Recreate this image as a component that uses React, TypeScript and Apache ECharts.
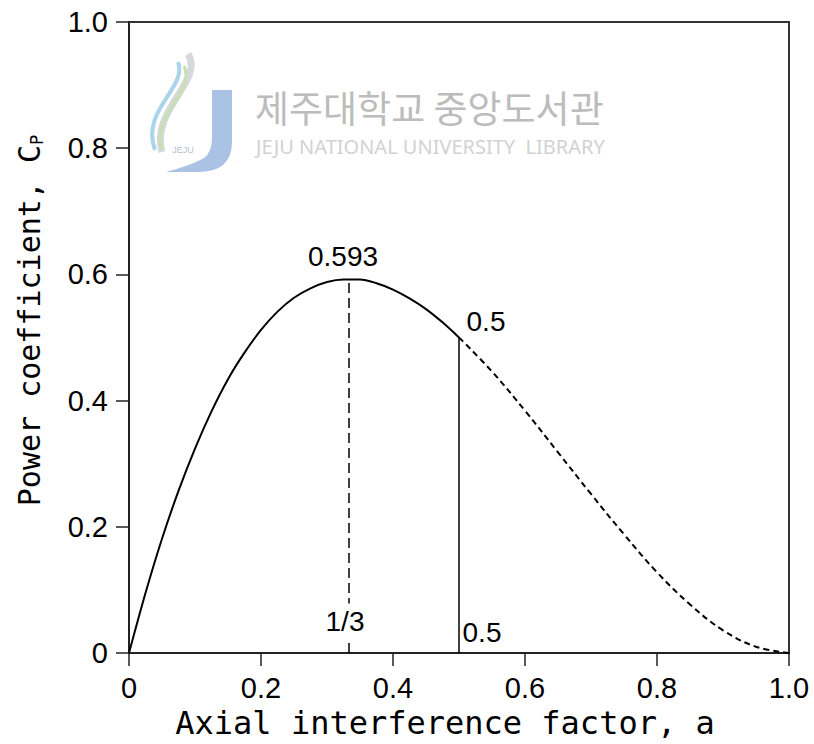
import React, { useEffect, useRef } from "react";
import * as echarts from "echarts";

// Solid part of the curve (a from 0 to 0.5)
const aSolid = [
  0, 0.025, 0.05, 0.075, 0.1, 0.125, 0.15, 0.175, 0.2, 0.225, 0.25, 0.275, 0.3, 0.325, 0.35, 0.375, 0.4,
  0.425, 0.45, 0.475, 0.5,
];
const cpSolid = [
  0, 0.095, 0.181, 0.257, 0.324, 0.383, 0.434, 0.476, 0.512, 0.541, 0.563, 0.578, 0.588, 0.592, 0.592,
  0.586, 0.576, 0.562, 0.545, 0.524, 0.5,
];
// Dashed part of the curve (a from 0.5 to 1)
const aDashed = [0.5, 0.55, 0.6, 0.65, 0.7, 0.75, 0.8, 0.85, 0.9, 0.95, 1.0];
const cpDashed = [0.5, 0.446, 0.384, 0.318, 0.252, 0.188, 0.128, 0.077, 0.036, 0.01, 0];

const peakA = 1 / 3;
const peakCp = 0.593;
const halfA = 0.5;
const halfCp = 0.5;

const xTicks = [0, 0.2, 0.4, 0.6, 0.8, 1.0];
const yTicks = [0, 0.2, 0.4, 0.6, 0.8, 1.0];
const xTickLabels = ["0", "0.2", "0.4", "0.6", "0.8", "1.0"];
const yTickLabels = ["0", "0.2", "0.4", "0.6", "0.8", "1.0"];

const annotations = [
  { text: "0.593", a: peakA, cp: peakCp, offset: [-6, -22], bg: false },
  { text: "0.5", a: halfA, cp: halfCp, offset: [27, -16], bg: false },
  { text: "1/3", a: peakA, cp: 0.05, offset: [-4, 0], bg: true },
  { text: "0.5", a: halfA, cp: 0.032, offset: [23, 0], bg: false },
];

const xTitle = "Axial interference factor, a";
const yTitle = "Power coefficient, C{sub|P}";
const wmKo = "제주대학교 중앙도서관";
const wmEn = "JEJU NATIONAL UNIVERSITY  LIBRARY";

const mono = "DejaVu Sans Mono";
const sans = "Liberation Sans";

function labelFor(list: string[], ticks: number[], v: number) {
  const i = ticks.findIndex((t) => Math.abs(t - v) < 1e-6);
  return i >= 0 ? list[i] : "";
}

let registered = false;
function registerShapes() {
  if (registered) return;
  registered = true;
  echarts.graphic.registerShape(
    "wmJ",
    echarts.graphic.extendPath(
      "M212 90 L232 90 L232 142 Q232 172 198 172 L166 172 Q192 165 204 158 Q212 152 212 138 Z",
      {}
    ) as any
  );
}

export default function App() {
  const ref = useRef<HTMLDivElement>(null);
  useEffect(() => {
    if (!ref.current) return;
    registerShapes();
    const chart = echarts.init(ref.current, null, { renderer: "svg" });
    const option: any = {
      animation: false,
      backgroundColor: "#fff",
      grid: {
        left: 129,
        right: 25,
        top: 22,
        bottom: 91,
        show: true,
        borderColor: "#333",
        borderWidth: 2,
        backgroundColor: "transparent",
      },
      xAxis: {
        type: "value",
        min: 0,
        max: 1,
        interval: 0.2,
        name: xTitle,
        nameLocation: "middle",
        nameGap: 51,
        nameTextStyle: {
          fontFamily: mono,
          fontSize: 32,
          color: "#000",
          padding: [0, 28, 0, 0],
        },
        axisLine: { lineStyle: { color: "#222", width: 2 } },
        axisTick: { show: true, inside: false, length: 13, lineStyle: { color: "#222", width: 1.5 } },
        axisLabel: {
          margin: 20,
          fontFamily: sans,
          fontSize: 29,
          color: "#000",
          formatter: (v: number) => labelFor(xTickLabels, xTicks, v),
        },
        splitLine: { show: false },
      },
      yAxis: {
        type: "value",
        min: 0,
        max: 1,
        interval: 0.2,
        name: yTitle,
        nameLocation: "middle",
        nameGap: 84,
        nameRotate: 90,
        nameTextStyle: {
          fontFamily: mono,
          fontSize: 30,
          color: "#000",
          padding: [0, 0, 0, 34],
          rich: {
            sub: { fontFamily: mono, fontSize: 17, color: "#000", verticalAlign: "bottom", padding: [14, 0, 0, 0] },
          },
        },
        axisLine: { lineStyle: { color: "#222", width: 2 } },
        axisTick: { show: true, inside: false, length: 13, lineStyle: { color: "#222", width: 1.5 } },
        axisLabel: {
          margin: 21,
          fontFamily: sans,
          fontSize: 29,
          color: "#000",
          formatter: (v: number) => labelFor(yTickLabels, yTicks, v),
        },
        splitLine: { show: false },
      },
      graphic: [
        {
          type: "bezierCurve",
          z: 0,
          shape: { x1: 188, y1: 54, cpx1: 205, cpy1: 80, cpx2: 150, cpy2: 110, x2: 162, y2: 152 },
          style: { stroke: "#d5d9de", lineWidth: 7, fill: null },
        },
        {
          type: "bezierCurve",
          z: 0,
          shape: { x1: 178, y1: 62, cpx1: 188, cpy1: 88, cpx2: 140, cpy2: 110, x2: 155, y2: 150 },
          style: { stroke: "#a9d4ea", lineWidth: 4, fill: null },
        },
        {
          type: "bezierCurve",
          z: 0,
          shape: { x1: 184, y1: 66, cpx1: 196, cpy1: 92, cpx2: 150, cpy2: 116, x2: 162, y2: 150 },
          style: { stroke: "#c8e0b0", lineWidth: 3, fill: null },
        },
        {
          type: "wmJ",
          z: 0,
          style: { fill: "#aac2e4" },
        },
        {
          type: "text",
          z: 0,
          x: 183,
          y: 150,
          style: { text: "JEJU", fontSize: 9, fontFamily: sans, fill: "#b8c0cc", align: "center", verticalAlign: "middle" },
        },
        {
          type: "text",
          z: 0,
          x: 255,
          y: 107,
          style: {
            text: wmKo,
            fontSize: 37,
            fontFamily: "Noto Sans CJK KR",
            fill: "#bcbcbc",
            verticalAlign: "middle",
          },
        },
        {
          type: "text",
          z: 0,
          x: 256,
          y: 146,
          style: {
            text: wmEn,
            fontSize: 20,
            fontFamily: "Noto Sans",
            fill: "#d2d2d2",
            verticalAlign: "middle",
          },
        },
      ],
      series: [
        {
          type: "line",
          z: 3,
          data: aSolid.map((a, i) => [a, cpSolid[i]]),
          smooth: 0.3,
          symbol: "none",
          lineStyle: { color: "#000", width: 2 },
        },
        {
          type: "line",
          z: 3,
          data: aDashed.map((a, i) => [a, cpDashed[i]]),
          smooth: 0.4,
          symbol: "none",
          lineStyle: { color: "#000", width: 2, type: [6, 4] },
        },
        {
          type: "line",
          z: 3,
          data: [
            [peakA, 0],
            [peakA, peakCp],
          ],
          symbol: "none",
          lineStyle: { color: "#000", width: 1.5, type: [10, 5] },
        },
        {
          type: "line",
          z: 3,
          data: [
            [halfA, 0],
            [halfA, halfCp],
          ],
          symbol: "none",
          lineStyle: { color: "#000", width: 1.5 },
        },
        {
          type: "scatter",
          z: 5,
          symbolSize: 0,
          silent: true,
          itemStyle: { color: "#000", opacity: 1 },
          data: annotations.map((n) => ({
            value: [n.a, n.cp],
            label: {
              show: true,
              position: "inside",
              formatter: n.text,
              offset: n.offset,
              fontFamily: sans,
              fontSize: 28,
              color: "#000",
              textBorderWidth: 0,
              align: "center",
              verticalAlign: "middle",
              backgroundColor: n.bg ? "#fff" : "transparent",
              padding: n.bg ? [4, 2] : 0,
            },
          })),
        },
      ],
    };
    chart.setOption(option);
    return () => chart.dispose();
  }, []);
  return (
    <div
      ref={ref}
      style={{ position: "fixed", left: 0, top: 0, width: 814, height: 744 }}
    />
  );
}
